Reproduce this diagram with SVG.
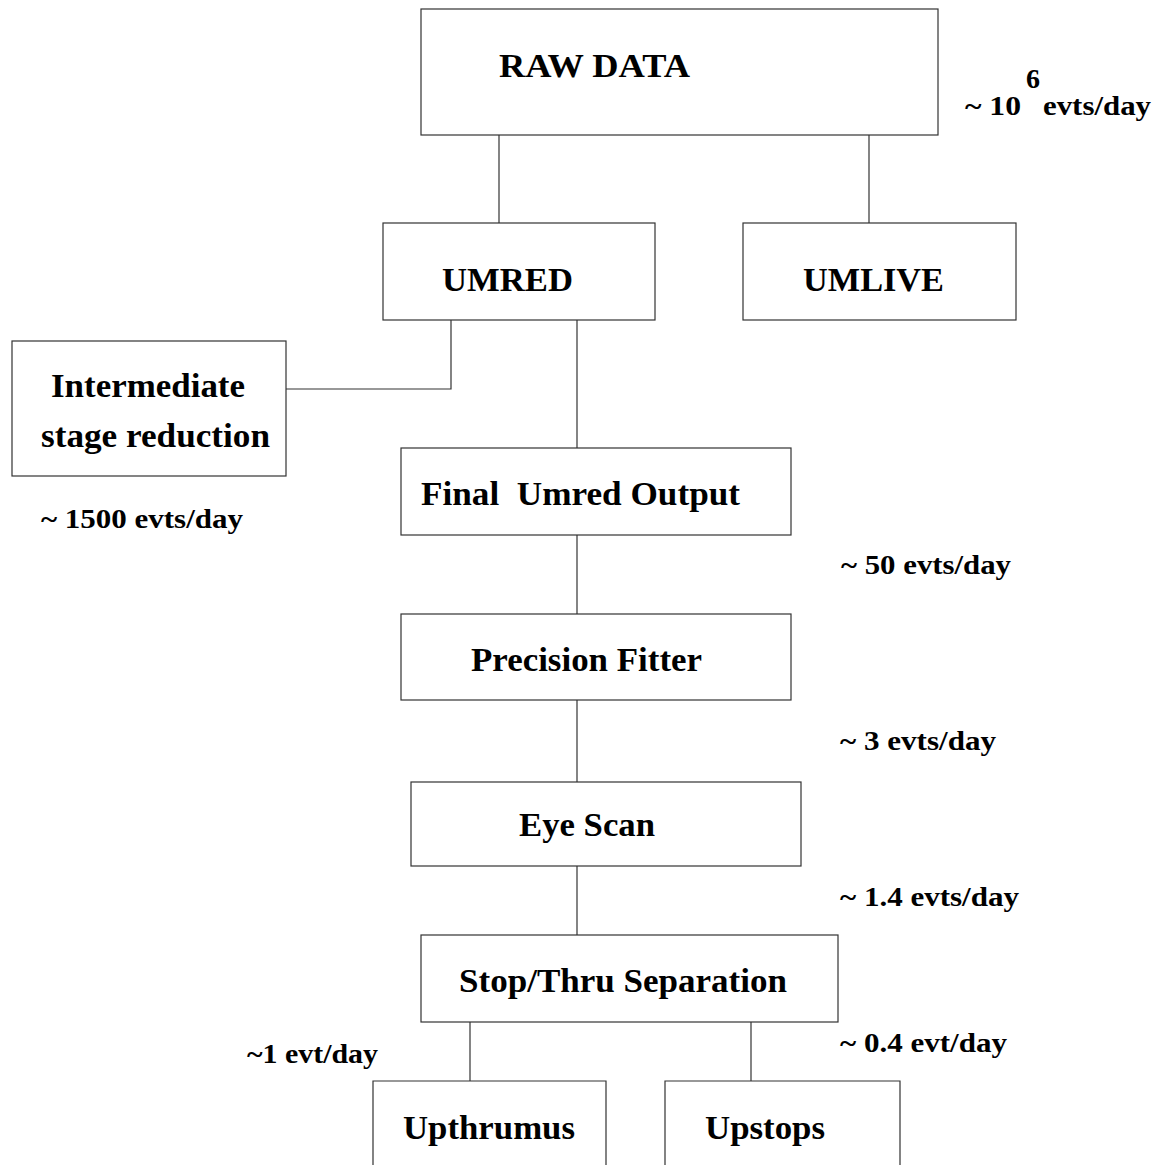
<svg xmlns="http://www.w3.org/2000/svg" width="1165" height="1165" viewBox="0 0 1165 1165">
<style>
.box{fill:#fff;stroke:#333;stroke-width:1.2}
.t{font-family:"Liberation Serif","Times New Roman",serif;font-weight:bold;font-size:34px;fill:#000}
.l{font-family:"Liberation Serif","Times New Roman",serif;font-weight:bold;font-size:28px;fill:#000}
.c{fill:none;stroke:#333;stroke-width:1.2}
</style>
<rect width="1165" height="1165" fill="#fff"/>
<g id="connectors">
<path class="c" d="M499,135V223"/>
<path class="c" d="M869,135V223"/>
<path class="c" d="M451,320V389H286"/>
<path class="c" d="M577,320V448"/>
<path class="c" d="M577,535V614"/>
<path class="c" d="M577,700V782"/>
<path class="c" d="M577,866V935"/>
<path class="c" d="M470,1022V1081"/>
<path class="c" d="M751,1022V1081"/>
</g>
<g id="raw-data"><rect class="box" x="421" y="9" width="517" height="126"/><text class="t" x="499" y="77" textLength="191" lengthAdjust="spacingAndGlyphs">RAW DATA</text></g>
<g id="umred"><rect class="box" x="383" y="223" width="272" height="97"/><text class="t" x="442" y="291" textLength="131" lengthAdjust="spacingAndGlyphs">UMRED</text></g>
<g id="umlive"><rect class="box" x="743" y="223" width="273" height="97"/><text class="t" x="803" y="291" textLength="141" lengthAdjust="spacingAndGlyphs">UMLIVE</text></g>
<g id="intermediate"><rect class="box" x="12" y="341" width="274" height="135"/><text class="t" x="51" y="397" textLength="194" lengthAdjust="spacingAndGlyphs">Intermediate</text><text class="t" x="41" y="447" textLength="229" lengthAdjust="spacingAndGlyphs">stage reduction</text></g>
<g id="final"><rect class="box" x="401" y="448" width="390" height="87"/><text class="t" x="421" y="505" xml:space="preserve" textLength="319" lengthAdjust="spacingAndGlyphs">Final  Umred Output</text></g>
<g id="precision"><rect class="box" x="401" y="614" width="390" height="86"/><text class="t" x="471" y="671" textLength="231" lengthAdjust="spacingAndGlyphs">Precision Fitter</text></g>
<g id="eyescan"><rect class="box" x="411" y="782" width="390" height="84"/><text class="t" x="519" y="836" textLength="136" lengthAdjust="spacingAndGlyphs">Eye Scan</text></g>
<g id="stopthru"><rect class="box" x="421" y="935" width="417" height="87"/><text class="t" x="459" y="992" textLength="328" lengthAdjust="spacingAndGlyphs">Stop/Thru Separation</text></g>
<g id="upthrumus"><path class="c" d="M373,1170V1081H606V1170"/><text class="t" x="403" y="1139" textLength="172" lengthAdjust="spacingAndGlyphs">Upthrumus</text></g>
<g id="upstops"><path class="c" d="M665,1170V1081H900V1170"/><text class="t" x="705" y="1139" textLength="120" lengthAdjust="spacingAndGlyphs">Upstops</text></g>
<g id="labels">
<text class="l" x="965" y="115" textLength="56" lengthAdjust="spacingAndGlyphs">~ 10</text><text class="l" x="1026" y="88" font-size="20">6</text><text class="l" x="1043" y="115" textLength="108" lengthAdjust="spacingAndGlyphs">evts/day</text>
<text class="l" x="41" y="528" textLength="202" lengthAdjust="spacingAndGlyphs">~ 1500 evts/day</text>
<text class="l" x="841" y="574" textLength="170" lengthAdjust="spacingAndGlyphs">~ 50 evts/day</text>
<text class="l" x="840" y="750" textLength="156" lengthAdjust="spacingAndGlyphs">~ 3 evts/day</text>
<text class="l" x="840" y="906" textLength="179" lengthAdjust="spacingAndGlyphs">~ 1.4 evts/day</text>
<text class="l" x="247" y="1063" textLength="131" lengthAdjust="spacingAndGlyphs">~1 evt/day</text>
<text class="l" x="840" y="1052" textLength="167" lengthAdjust="spacingAndGlyphs">~ 0.4 evt/day</text>
</g>
</svg>
